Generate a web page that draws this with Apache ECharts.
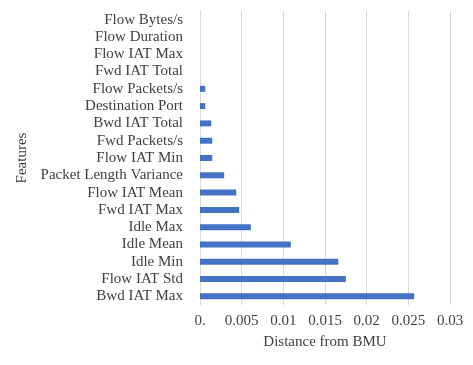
<!DOCTYPE html>
<html><head><meta charset="utf-8">
<script src="https://cdn.jsdelivr.net/npm/echarts@6/dist/echarts.min.js"></script>
<style>html,body{margin:0;padding:0;background:#fff}#c{width:473px;height:365px}</style>
</head><body><div id="c"></div>
<script>
const categories = ["Bwd IAT Max","Flow IAT Std","Idle Min","Idle Mean","Idle Max","Fwd IAT Max","Flow IAT Mean","Packet Length Variance","Flow IAT Min","Fwd Packets/s","Bwd IAT Total","Destination Port","Flow Packets/s","Fwd IAT Total","Flow IAT Max","Flow Duration","Flow Bytes/s"];
const distances = [0.0257,0.0175,0.0166,0.0109,0.0061,0.0047,0.00435,0.0029,0.00147,0.00147,0.00135,0.00063,0.00063,0,0,0,0];
const xTicks = [0,0.005,0.01,0.015,0.02,0.025,0.03];
const font = "'Liberation Serif','Times New Roman',serif";
const chart = echarts.init(document.getElementById('c'));
chart.setOption({
  animation:false,
  grid:{left:200,right:23,top:11,bottom:60,containLabel:false},
  xAxis:{type:'value',min:0,max:0.03,interval:0.005,
    name:'Distance from BMU',nameLocation:'middle',nameGap:30,
    nameTextStyle:{fontFamily:font,fontSize:15,color:'#404040'},
    axisLine:{show:false},axisTick:{show:false},
    splitLine:{show:true,lineStyle:{color:'#d9d9d9',width:1}},
    axisLabel:{fontFamily:font,fontSize:15,color:'#404040',margin:9,
      formatter:v=>v===0?'0.':String(+v.toFixed(3))}},
  yAxis:{type:'category',data:categories,
    name:'Features',nameLocation:'middle',nameGap:167,nameRotate:90,
    nameTextStyle:{fontFamily:font,fontSize:15,color:'#404040'},
    axisLine:{show:true,lineStyle:{color:'#d9d9d9'}},axisTick:{show:false},
    axisLabel:{interval:0,fontFamily:font,fontSize:15,color:'#404040',margin:17}},
  series:[{type:'bar',data:distances,barWidth:6,itemStyle:{color:'#4472C4'}}]
});
</script></body></html>
